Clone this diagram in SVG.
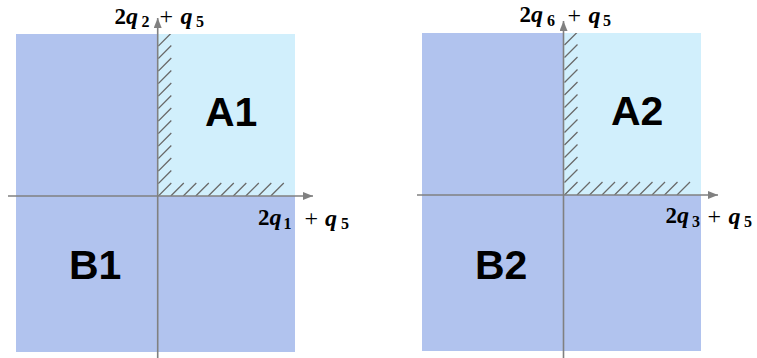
<svg xmlns="http://www.w3.org/2000/svg" width="757" height="358" viewBox="0 0 757 358">
<defs>
<style>
.blue{fill:#b1c3ee}
.light{fill:#d1effc}
.hatch{stroke:#6a6a6a;stroke-width:1.3;fill:none}
.axis{stroke:#808080;stroke-width:1.6;fill:none}
.big{font-family:"Liberation Sans",Arial,sans-serif;font-weight:bold;font-size:41px;fill:#000}
.math{font-family:"Liberation Serif","Times New Roman",serif;font-size:23px;fill:#000}
.b{font-weight:bold}
.bi{font-weight:bold;font-style:italic;font-size:24px}
.op{font-size:24px}
.sub{font-weight:bold;font-size:16px}
</style>
<marker id="arr" markerUnits="userSpaceOnUse" markerWidth="12" markerHeight="10" refX="10" refY="4" orient="auto">
<path d="M0,0 L10,4 L0,8 Z" fill="#808080"/>
</marker>
<clipPath id="c1"><rect x="158" y="34" width="137" height="162"/></clipPath>
<clipPath id="c2"><rect x="563.5" y="33" width="137.5" height="162"/></clipPath>
</defs>

<g id="region-B1">
<rect class="blue" x="16" y="34" width="279" height="318"/>
<text class="big" x="69" y="279">B1</text>
</g>
<g id="region-A1">
<rect class="light" x="158" y="34" width="137" height="162"/>
<g class="hatch" clip-path="url(#c1)">
<path d="M158.3,196 l13,-13 M170.8,196 l13,-13 M183.3,196 l13,-13 M195.8,196 l13,-13 M208.3,196 l13,-13 M220.8,196 l13,-13 M233.3,196 l13,-13 M245.8,196 l13,-13 M258.3,196 l13,-13 M270.8,196 l13,-13"/>
<path d="M158.3,183.5 l13,-13 M158.3,171 l13,-13 M158.3,158.5 l13,-13 M158.3,146 l13,-13 M158.3,133.5 l13,-13 M158.3,121 l13,-13 M158.3,108.5 l13,-13 M158.3,96 l13,-13 M158.3,83.5 l13,-13 M158.3,71 l13,-13 M158.3,58.5 l13,-13 M158.3,46 l13,-13"/>
</g>
<text class="big" x="205" y="126">A1</text>
</g>

<g id="region-B2">
<rect class="blue" x="422" y="33" width="279" height="318"/>
<text class="big" x="475" y="279">B2</text>
</g>
<g id="region-A2">
<rect class="light" x="563.5" y="33" width="137.5" height="162"/>
<g class="hatch" clip-path="url(#c2)">
<path d="M564.5,195 l13,-13 M577,195 l13,-13 M589.5,195 l13,-13 M602,195 l13,-13 M614.5,195 l13,-13 M627,195 l13,-13 M639.5,195 l13,-13 M652,195 l13,-13 M664.5,195 l13,-13 M677,195 l13,-13"/>
<path d="M564.5,182.5 l13,-13 M564.5,170 l13,-13 M564.5,157.5 l13,-13 M564.5,145 l13,-13 M564.5,132.5 l13,-13 M564.5,120 l13,-13 M564.5,107.5 l13,-13 M564.5,95 l13,-13 M564.5,82.5 l13,-13 M564.5,70 l13,-13 M564.5,57.5 l13,-13 M564.5,45 l13,-13"/>
</g>
<text class="big" x="611" y="125">A2</text>
</g>

<g id="connectors">
<line class="axis" x1="8" y1="196" x2="313" y2="196" marker-end="url(#arr)"/>
<line class="axis" x1="157.7" y1="358" x2="157.7" y2="18" marker-end="url(#arr)"/>
<line class="axis" x1="417" y1="195" x2="718" y2="195" marker-end="url(#arr)"/>
<line class="axis" x1="563.5" y1="358" x2="563.5" y2="21" marker-end="url(#arr)"/>
</g>

<g id="labels">
<text class="math" y="23.5"><tspan class="b" x="114.5">2</tspan><tspan class="bi" x="126">q</tspan><tspan class="sub" x="141.5" y="27">2</tspan><tspan class="op" x="159.5" y="24">+</tspan><tspan class="bi" x="180.5">q</tspan><tspan class="sub" x="196" y="27">5</tspan></text>
<text class="math" y="225"><tspan class="b" x="258">2</tspan><tspan class="bi" x="269.5">q</tspan><tspan class="sub" x="283.5" y="228.5">1</tspan><tspan class="op" x="304.5" y="225.5">+</tspan><tspan class="bi" x="325">q</tspan><tspan class="sub" x="341" y="228.5">5</tspan></text>
<text class="math" y="22"><tspan class="b" x="519.5">2</tspan><tspan class="bi" x="531">q</tspan><tspan class="sub" x="547" y="25.5">6</tspan><tspan class="op" x="567.5" y="22.5">+</tspan><tspan class="bi" x="588.5">q</tspan><tspan class="sub" x="603" y="25.5">5</tspan></text>
<text class="math" y="223.3"><tspan class="b" x="665.5">2</tspan><tspan class="bi" x="677">q</tspan><tspan class="sub" x="692" y="226.8">3</tspan><tspan class="op" x="707.5" y="223.8">+</tspan><tspan class="bi" x="728.5">q</tspan><tspan class="sub" x="744" y="226.8">5</tspan></text>
</g>
</svg>
